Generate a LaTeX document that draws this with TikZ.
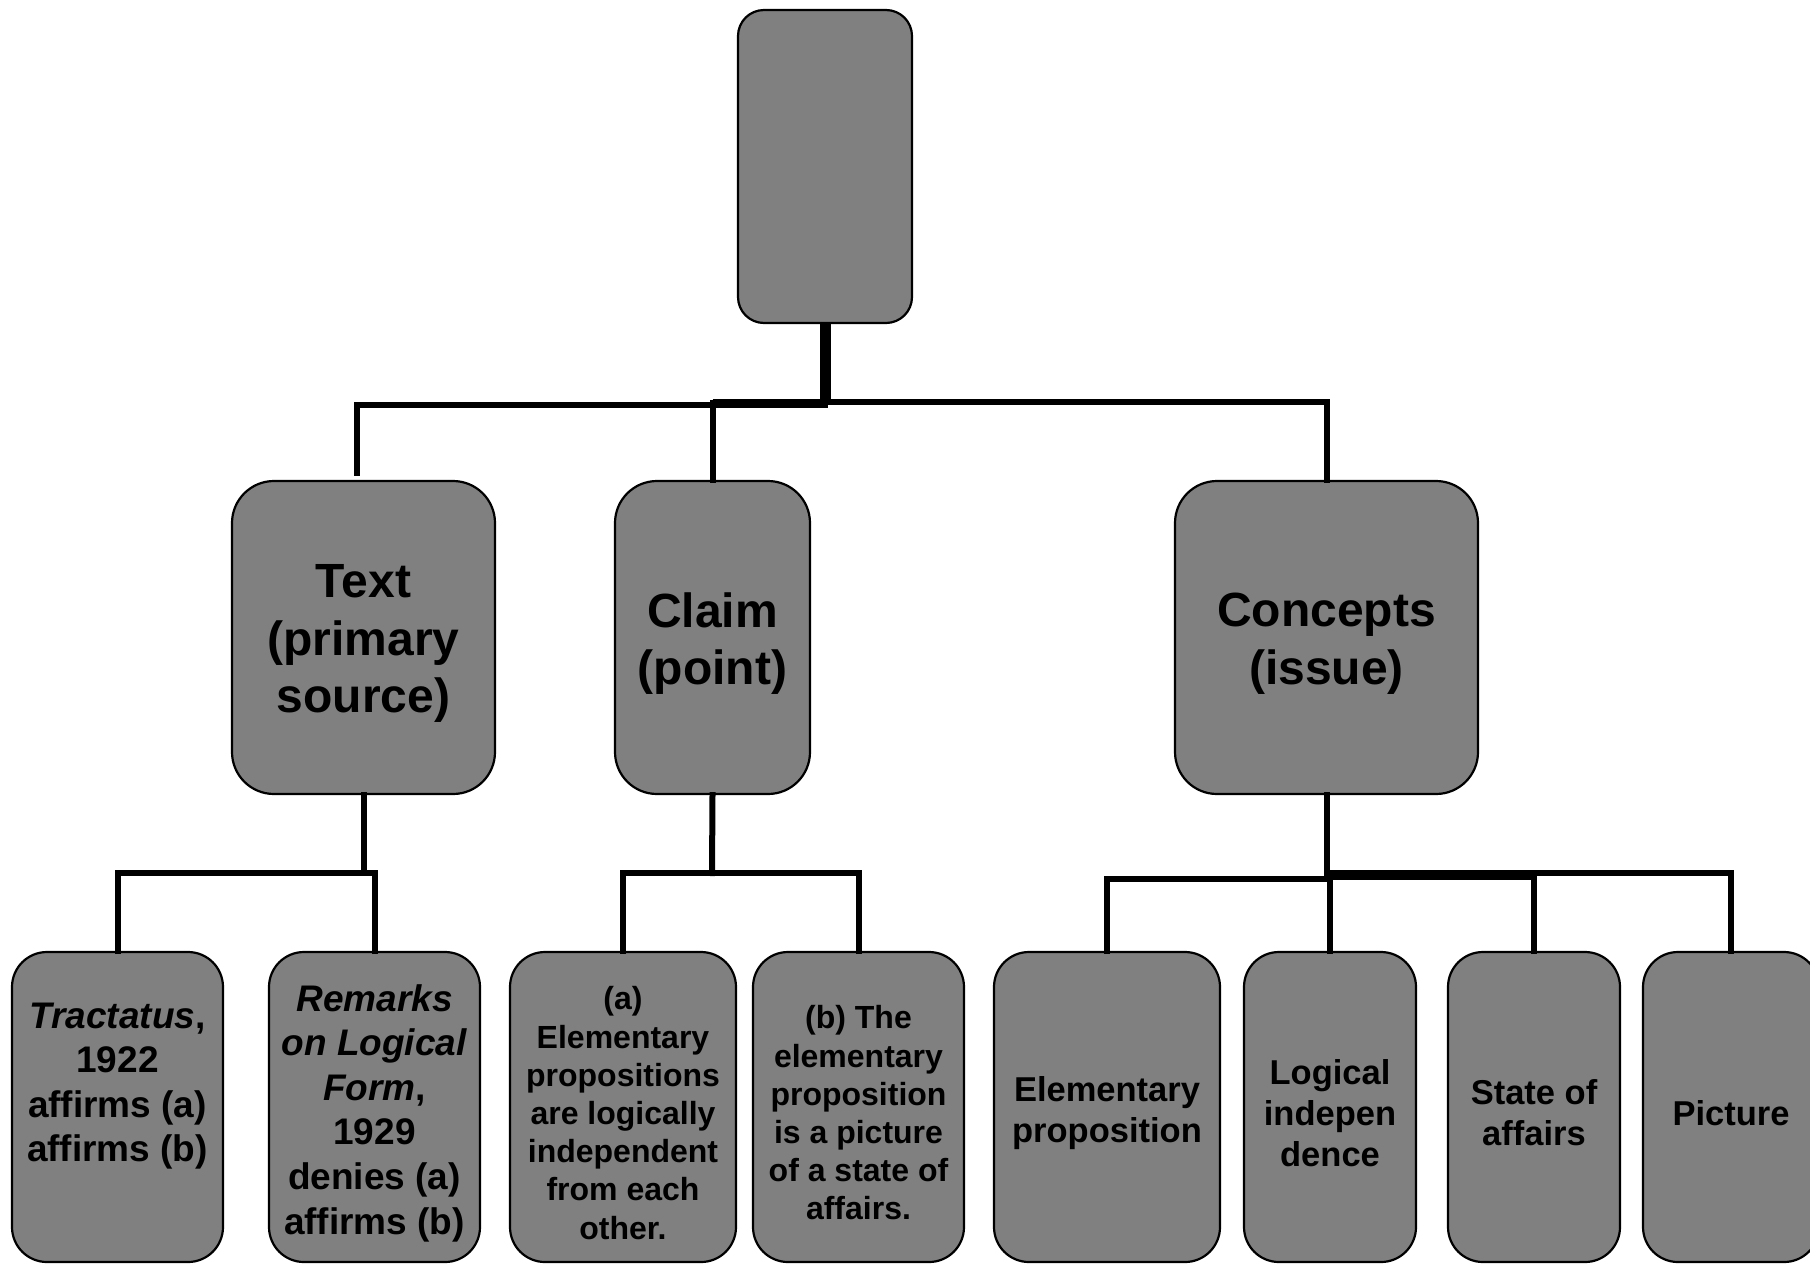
\documentclass[tikz,border=0pt]{standalone}
\usepackage{fontspec}
\setmainfont{Liberation Sans}
\definecolor{boxgray}{RGB}{128,128,128}
\begin{document}
\begin{tikzpicture}[x=1pt,y=-1pt,
  basebox/.style={draw=black, line width=2.2pt, fill=boxgray, inner sep=0pt},
  rootbox/.style={basebox, rounded corners=26pt, minimum width=174pt, minimum height=313pt},
  midbox/.style={basebox, rounded corners=42pt, minimum height=313pt},
  leafbox/.style={basebox, rounded corners=35pt, minimum height=310pt},
  lbl/.style={align=center, inner sep=0pt, text=black, yshift=-6pt},
  midtext/.style={lbl, font=\fontsize{48}{57.7}\selectfont\bfseries},
  bigtext/.style={lbl, font=\fontsize{37}{44.6}\selectfont\bfseries},
  smalltext/.style={lbl, font=\fontsize{32}{38.2}\selectfont\bfseries},
  context/.style={lbl, font=\fontsize{34.5}{41.2}\selectfont\bfseries},
  conn/.style={draw=black, line width=6pt, line cap=rect},
  thickconn/.style={draw=black, line width=11pt}
]
\useasboundingbox (0,0) rectangle (1810,1264);
\fill[white] (0,0) rectangle (1810,1264);

% root
\node[rootbox] (r) at (825,166.5) {};

% level 2
\node[midbox, minimum width=263pt] (t) at (363.5,637.5) {};
\node[midbox, minimum width=195pt] (c) at (712.5,637.5) {};
\node[midbox, minimum width=303pt] (k) at (1326.5,637.5) {};
\node[midtext] (tl) at (t.center) {Text\\(primary\\source)};
\node[midtext] (cl) at (c.center) {Claim\\(point)};
\node[midtext] (kl) at (k.center) {Concepts\\(issue)};

% level 3
\node[leafbox, minimum width=211pt] (l1) at (117.5,1107) {};
\node[leafbox, minimum width=211pt] (l2) at (374.5,1107) {};
\node[leafbox, minimum width=226pt] (l3) at (623,1107) {};
\node[leafbox, minimum width=211pt] (l4) at (858.5,1107) {};
\node[leafbox, minimum width=226pt] (l5) at (1107,1107) {};
\node[leafbox, minimum width=172pt] (l6) at (1330,1107) {};
\node[leafbox, minimum width=172pt] (l7) at (1534,1107) {};
\node[leafbox, minimum width=176pt] (l8) at (1731,1107) {};

\node[bigtext, yshift=27pt] (l1l) at (l1.center) {\textit{Tractatus},\\1922\\affirms (a)\\affirms (b)};
\node[bigtext] (l2l) at (l2.center) {\textit{Remarks}\\\textit{on Logical}\\\textit{Form},\\1929\\denies (a)\\affirms (b)};
\node[smalltext] (l3l) at (l3.center) {(a)\\Elementary\\propositions\\are logically\\independent\\from each\\other.};
\node[smalltext] (l4l) at (l4.center) {(b) The\\elementary\\proposition\\is a picture\\of a state of\\affairs.};
\node[context] (l5l) at (l5.center) {Elementary\\proposition};
\node[context] (l6l) at (l6.center) {Logical\\indepen\\dence};
\node[context] (l7l) at (l7.center) {State of\\affairs};
\node[context] (l8l) at (l8.center) {Picture};

% level 1 connectors
\coordinate (j1) at (825,403);
\draw[thickconn] (r.south) -- (j1);
\draw[conn] (c.north) |- (j1);
\draw[conn] (k.north) |- ([yshift=1pt]j1);
\draw[conn] ([xshift=-6.5pt,yshift=7pt]t.north) |- ([yshift=-2pt]j1);
\draw[draw=black, line width=8pt] (c.north |- j1) -- (j1);

% Text connectors
\coordinate (tj) at (363.5,873);
\draw[conn] (t.south) -- (tj);
\draw[conn] (l1.north) |- (tj);
\draw[conn] (l2.north) |- (tj);

% Claim connectors
\coordinate (cj) at (712,873);
\draw[conn] (c.south) -- (cj);
\draw[conn] (l3.north) |- (cj);
\draw[conn] (l4.north) |- (cj);

% Concepts connectors
\coordinate (kj) at (1326.5,875);
\draw[conn] (k.south) -- (kj);
\draw[conn] (l5.north) |- ([yshift=-4pt]kj);
\draw[conn] (l6.north) |- (kj);
\draw[conn] (l7.north) |- (kj);
\draw[conn] (l8.north) |- ([yshift=2pt]kj);
\draw[draw=black, line width=10pt] (kj) -- (l7.north |- kj);
\end{tikzpicture}
\end{document}
